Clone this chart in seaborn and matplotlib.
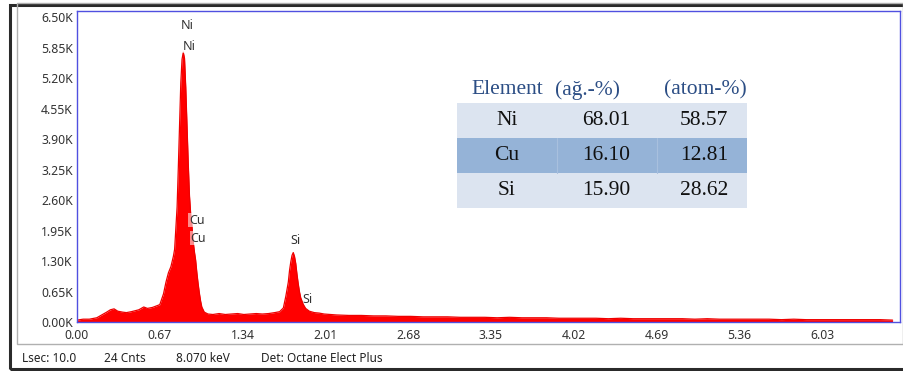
import numpy as np
import matplotlib.pyplot as plt
import seaborn as sns
from matplotlib.patches import Rectangle

# ---- data ----
energy_kev = [
    0.00, 0.05, 0.10, 0.16, 0.20, 0.24, 0.27, 0.30, 0.33, 0.37, 0.40, 0.44, 0.47,
    0.50, 0.54, 0.57, 0.61, 0.64, 0.67, 0.70, 0.72, 0.74, 0.76, 0.78, 0.79, 0.80,
    0.81, 0.82, 0.83, 0.84, 0.85, 0.86, 0.87, 0.88, 0.89, 0.90, 0.91, 0.92, 0.93,
    0.94, 0.95, 0.96, 0.97, 0.98, 0.99, 1.00, 1.01, 1.03, 1.06, 1.10, 1.15, 1.20,
    1.25, 1.30, 1.35, 1.40, 1.45, 1.50, 1.55, 1.60, 1.64, 1.67, 1.69, 1.71, 1.72,
    1.73, 1.74, 1.75, 1.76, 1.77, 1.78, 1.79, 1.80, 1.81, 1.83, 1.85, 1.88, 1.92,
    1.96, 2.00, 2.10, 2.20, 2.30, 2.40, 2.50, 2.60, 2.70, 2.80, 2.90, 3.00, 3.10,
    3.20, 3.30, 3.40, 3.50, 3.60, 3.70, 3.80, 3.90, 4.00, 4.10, 4.20, 4.30, 4.40,
    4.50, 4.60, 4.70, 4.80, 4.90, 5.00, 5.10, 5.20, 5.30, 5.40, 5.50, 5.60, 5.70,
    5.80, 5.90, 6.00, 6.10, 6.20, 6.30, 6.40, 6.50, 6.60,
]
counts_k = [
    0.04, 0.06, 0.06, 0.09, 0.15, 0.21, 0.26, 0.28, 0.23, 0.21, 0.20, 0.22, 0.24,
    0.26, 0.32, 0.29, 0.31, 0.34, 0.37, 0.60, 0.85, 1.05, 1.18, 1.40, 1.55, 2.00,
    2.45, 3.30, 4.20, 5.10, 5.60, 5.75, 5.62, 5.00, 4.20, 3.40, 2.70, 2.30, 2.05,
    1.72, 1.50, 1.32, 1.05, 0.82, 0.62, 0.45, 0.32, 0.21, 0.17, 0.16, 0.18, 0.16,
    0.17, 0.18, 0.16, 0.17, 0.18, 0.17, 0.18, 0.20, 0.22, 0.30, 0.55, 0.85, 1.10,
    1.28, 1.42, 1.48, 1.40, 1.25, 1.02, 0.82, 0.65, 0.52, 0.38, 0.29, 0.23, 0.20,
    0.19, 0.17, 0.15, 0.14, 0.14, 0.13, 0.13, 0.12, 0.12, 0.11, 0.11, 0.11, 0.10,
    0.10, 0.10, 0.09, 0.10, 0.09, 0.09, 0.09, 0.08, 0.08, 0.08, 0.08, 0.07, 0.08,
    0.07, 0.07, 0.07, 0.07, 0.07, 0.06, 0.07, 0.06, 0.06, 0.06, 0.06, 0.06, 0.05,
    0.06, 0.05, 0.05, 0.05, 0.05, 0.05, 0.05, 0.05, 0.04,
]

x_ticks = [0.00, 0.67, 1.34, 2.01, 2.68, 3.35, 4.02, 4.69, 5.36, 6.03]
y_ticks = [0.00, 0.65, 1.30, 1.95, 2.60, 3.25, 3.90, 4.55, 5.20, 5.85, 6.50]

elements = ["Ni", "Cu", "Si"]
wt_pct = ["68.01", "16.10", "15.90"]
at_pct = ["58.57", "12.81", "28.62"]
table_header = ["Element", "(ağ.-%)", "(atom-%)"]

status_items = ["Lsec: 10.0", "24 Cnts", "8.070 keV", "Det: Octane Elect Plus"]

# ---- figure ----
sns.set_theme(style="white")
plt.rcParams["font.family"] = ["Noto Sans", "DejaVu Sans"]

W, H = 904, 371
fig = plt.figure(figsize=(W / 100, H / 100), dpi=100)
fig.patch.set_facecolor("white")


def fx(x):
    return x / W


def fy(y):
    return 1 - y / H


# outer dark frame and light gray inner panel
fig.patches.append(Rectangle((fx(10), fy(369)), fx(904 - 10) + 0.01, fy(5) - fy(369),
                             transform=fig.transFigure, fill=False,
                             edgecolor="#2a2a2a", lw=2.2, clip_on=False))
fig.patches.append(Rectangle((fx(17), fy(344)), fx(903 - 17), fy(3) - fy(344),
                             transform=fig.transFigure, fill=False,
                             edgecolor="#b0b0b0", lw=1.0))

ax = fig.add_axes([fx(77), fy(322), fx(900 - 77), fy(11) - fy(322)])

ax.fill_between(energy_kev, counts_k, 0, color="#ff0000", lw=0)
sns.lineplot(x=energy_kev, y=counts_k, ax=ax, color="#ee0000", lw=0.9)

ax.set_xlim(0, 6.66)
ax.set_ylim(0, 6.63)
ax.set_xticks(x_ticks)
ax.set_xticklabels([f"{v:.2f}" for v in x_ticks])
ax.set_yticks(y_ticks)
ax.set_yticklabels([f"{v:.2f}K" for v in y_ticks])
ax.tick_params(axis="both", labelsize=8.8, labelcolor="#333333", length=2,
               color="#5050e0", width=0.8)
ax.tick_params(axis="x", pad=3)
ax.tick_params(axis="y", pad=1)
for s in ax.spines.values():
    s.set_color("#5050e0")
    s.set_linewidth(1.0)
ax.set_xlabel("")
ax.set_ylabel("")

# peak labels
lbl = dict(fontsize=9, color="#333333")
box = dict(boxstyle="square,pad=0.05", facecolor="white", alpha=0.55, lw=0)
ax.text(0.889, 6.33, "Ni", ha="center", va="center", **lbl)
ax.text(0.855, 5.88, "Ni", ha="left", va="center", bbox=box, **lbl)
ax.text(0.905, 2.17, "Cu", ha="left", va="center", bbox=box, **lbl)
ax.text(0.920, 1.79, "Cu", ha="left", va="center", bbox=box, **lbl)
ax.text(1.766, 1.73, "Si", ha="center", va="center", **lbl)
ax.text(1.827, 0.49, "Si", ha="left", va="center", **lbl)

# composition table
serif = dict(family=["Liberation Serif", "DejaVu Serif"], fontsize=15.5)
row_top = [103, 138, 173]
row_colors = ["#dce4f0", "#95b3d7", "#dce4f0"]
for top, c in zip(row_top, row_colors):
    fig.patches.append(Rectangle((fx(457), fy(top + 35)), fx(747 - 457), fy(top) - fy(top + 35),
                                 transform=fig.transFigure, facecolor=c, lw=0))
for xc in [557, 657]:
    fig.add_artist(plt.Line2D([fx(xc), fx(xc)], [fy(138), fy(173)],
                              transform=fig.transFigure, color="#a8c0de", lw=0.8))

header_x = [507, 588, 705]
for xc, t in zip(header_x, table_header):
    fig.text(fx(xc), fy(90), t, ha="center", va="center", color="#2c4e85", **serif)

col_x = [507, 606, 704]
for i in range(len(elements)):
    yc = fy(row_top[i] + 17.5)
    for xc, t in zip(col_x, [elements[i], wt_pct[i], at_pct[i]]):
        fig.text(fx(xc), yc, t, ha="center", va="center", color="#111111", **serif)

# status bar
status_x = [22, 104, 176, 261]
for xs, t in zip(status_x, status_items):
    fig.text(fx(xs), fy(359), t, ha="left", va="center", fontsize=8.5, color="#222222")

fig.savefig("out.png", dpi=100)
